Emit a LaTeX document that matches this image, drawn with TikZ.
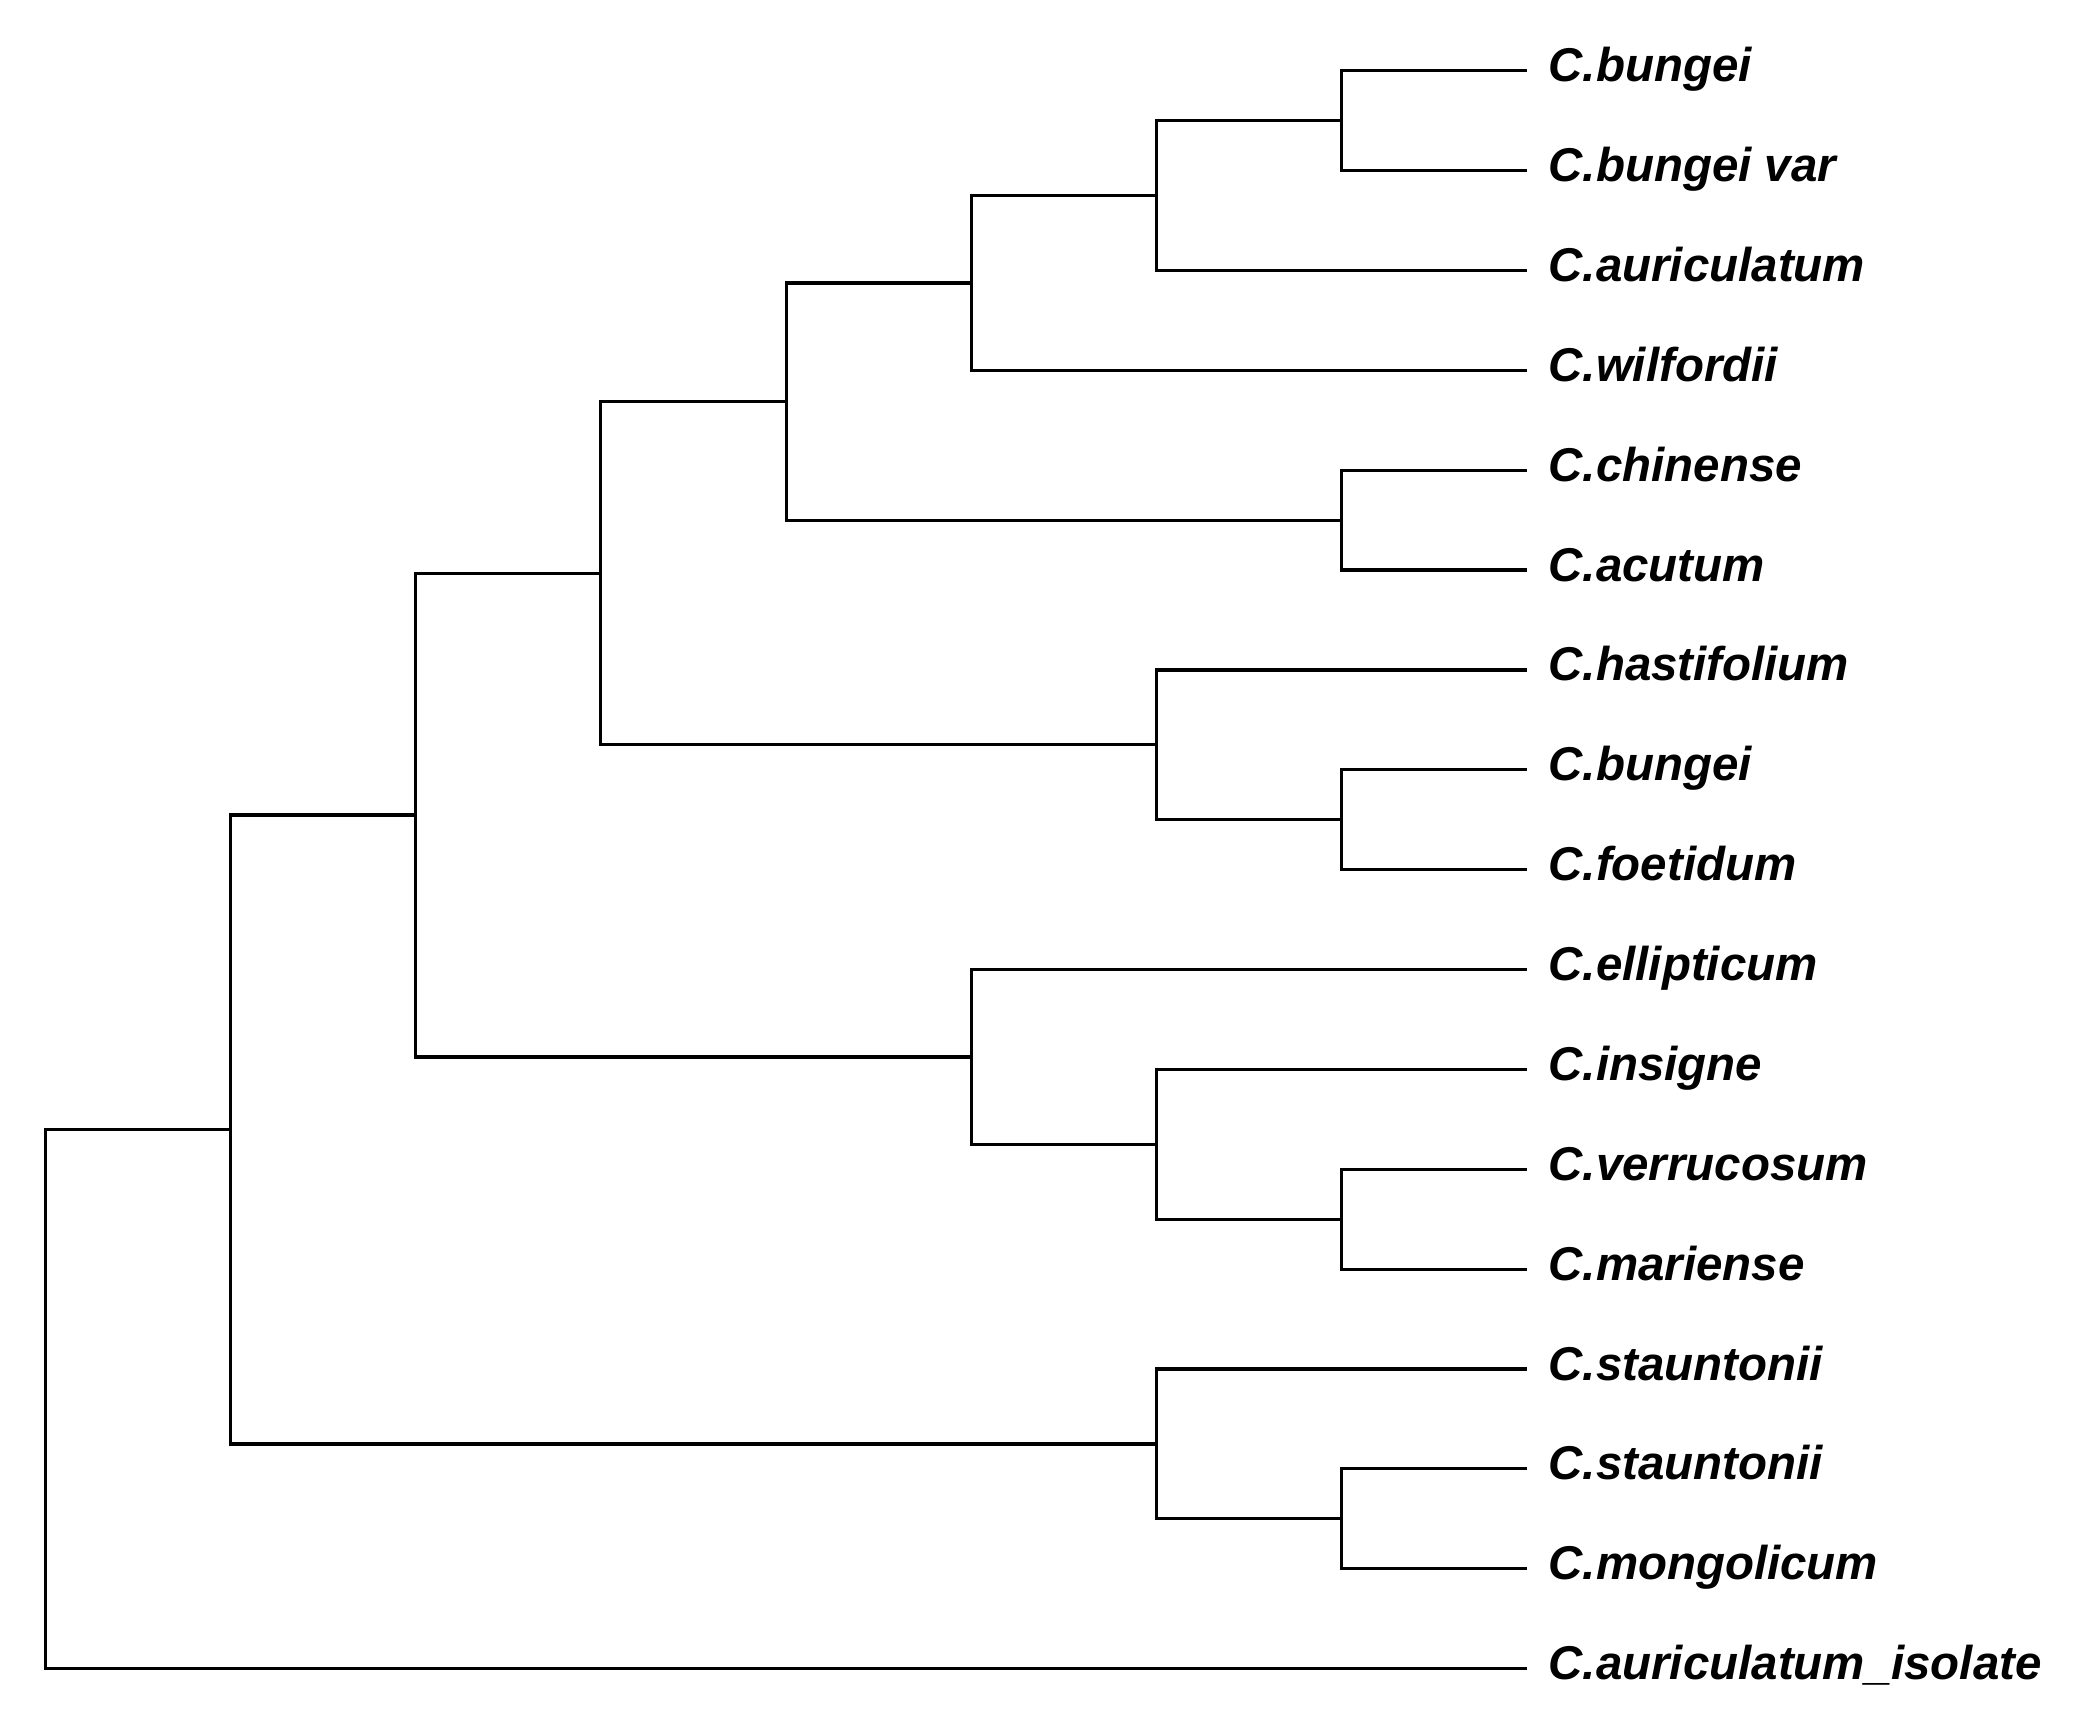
\documentclass[tikz,border=0pt]{standalone}
\usepackage{fontspec}
\setmainfont{Liberation Sans}
\begin{document}
\begin{tikzpicture}[x=1.852cm, y=-0.9987cm,
    branch/.style={line width=0.9pt, black},
    tax/.style={anchor=base west, inner sep=0pt, xshift=0.21cm, yshift=-0.11cm,
        font=\fontsize{13.5}{16}\selectfont\bfseries\itshape}]
    \useasboundingbox (-0.2446,-0.708) rectangle (10.981,16.594);
    % leaf tips and names
    \foreach \name [count=\i from 0] in {C.bungei, C.bungei var, C.auriculatum,
        C.wilfordii, C.chinense, C.acutum, C.hastifolium, C.bungei, C.foetidum,
        C.ellipticum, C.insigne, C.verrucosum, C.mariense, C.stauntonii,
        C.stauntonii, C.mongolicum, C.auriculatum\_isolate} {
        \coordinate (t\i) at (8,\i);
        \node[tax] (lab\i) at (t\i) {\name};
    }
    % internal nodes
    \coordinate (n1) at (7,0.5);
    \coordinate (n2) at (6,1.25);
    \coordinate (n3) at (5,2.125);
    \coordinate (n4) at (7,4.5);
    \coordinate (n5) at (4,3.3125);
    \coordinate (n6) at (7,7.5);
    \coordinate (n7) at (6,6.75);
    \coordinate (n8) at (3,5.03125);
    \coordinate (n9) at (7,11.5);
    \coordinate (n10) at (6,10.75);
    \coordinate (n11) at (5,9.875);
    \coordinate (n12) at (2,7.453125);
    \coordinate (n13) at (7,14.5);
    \coordinate (n14) at (6,13.75);
    \coordinate (n15) at (1,10.6015625);
    \coordinate (n16) at (0,10.6015625);
    % branches
    \draw[branch] (t0) -| (n1) |- (t1);
    \draw[branch] (n1) -| (n2) |- (t2);
    \draw[branch] (n2) -| (n3) |- (t3);
    \draw[branch] (t4) -| (n4) |- (t5);
    \draw[branch] (n3) -| (n5) |- (n4);
    \draw[branch] (t7) -| (n6) |- (t8);
    \draw[branch] (t6) -| (n7) |- (n6);
    \draw[branch] (n5) -| (n8) |- (n7);
    \draw[branch] (t11) -| (n9) |- (t12);
    \draw[branch] (t10) -| (n10) |- (n9);
    \draw[branch] (t9) -| (n11) |- (n10);
    \draw[branch] (n8) -| (n12) |- (n11);
    \draw[branch] (t14) -| (n13) |- (t15);
    \draw[branch] (t13) -| (n14) |- (n13);
    \draw[branch] (n12) -| (n15) |- (n14);
    \draw[branch] (n15) -- (n16) |- (t16);
\end{tikzpicture}
\end{document}
